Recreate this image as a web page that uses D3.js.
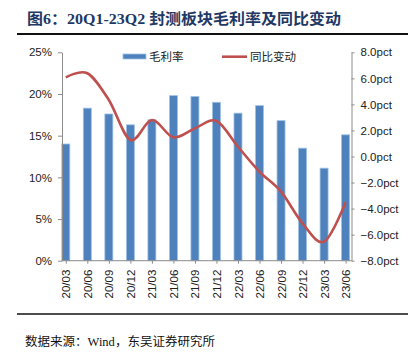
<!DOCTYPE html>
<html><head><meta charset="utf-8">
<script src="https://cdn.jsdelivr.net/npm/d3@7"></script>
<style>body{margin:0;background:#fff}svg{display:block}</style>
</head><body>
<script>
const categories = ["20/03","20/06","20/09","20/12","21/03","21/06","21/09","21/12","22/03","22/06","22/09","22/12","23/03","23/06"];
const grossMargin = [14.0,18.3,17.6,16.3,16.9,19.8,19.7,19.0,17.7,18.6,16.8,13.5,11.1,15.1];
const yoyChange = [6.08,6.39,4.34,1.27,2.80,1.47,2.16,2.73,0.75,-1.17,-2.70,-5.13,-6.54,-3.52];
const leftTicks = [0,5,10,15,20,25];
const rightTicks = [8,6,4,2,0,-2,-4,-6,-8];
const seriesNames = ["毛利率","同比变动"];
const titleText = "图6：20Q1-23Q2 封测板块毛利率及同比变动";
const sourceText = "数据来源：Wind，东吴证券研究所";

const W = 413, H = 354;
const svg = d3.select("body").append("svg").attr("width", W).attr("height", H);

const x0 = 62, x1 = 351.5, yTop = 52.3, yBot = 260.7;
const x = d3.scalePoint().domain(categories).range([65.8, 345.6]);
const yL = d3.scaleLinear().domain([0,25]).range([yBot, yTop]);
const yR = d3.scaleLinear().domain([-8,8]).range([yBot, yTop]);
const axisColor = "#8c8c8c";
const tickFont = "'Liberation Sans', Arial, sans-serif";

// Title
svg.append("text").attr("x", 27).attr("y", 24)
  .attr("font-family", "'Liberation Serif','Noto Sans CJK SC',serif")
  .attr("font-weight", "bold").attr("font-size", 15).attr("fill", "#1f3864")
  .attr("textLength", 314).attr("lengthAdjust", "spacingAndGlyphs")
  .text(titleText);
svg.append("line").attr("x1", 17).attr("x2", 408).attr("y1", 34).attr("y2", 34)
  .attr("stroke", "#111").attr("stroke-width", 2);

// Bars
const bw = 8;
svg.append("g").selectAll("rect").data(grossMargin).join("rect")
  .attr("x", (d,i) => x(categories[i]) - bw/2)
  .attr("y", d => yL(d))
  .attr("width", bw)
  .attr("height", d => yBot - yL(d))
  .attr("fill", "#4f81bd")
  .attr("stroke", "#9cc2e5").attr("stroke-width", 0.8);

// Left axis
const gL = svg.append("g").attr("transform", `translate(${x0},0)`)
  .call(d3.axisLeft(yL).tickValues(leftTicks).tickFormat(d => d + "%").tickSize(4).tickSizeOuter(0).tickPadding(6));
gL.select(".domain").attr("stroke", axisColor);
gL.selectAll(".tick line").attr("stroke", axisColor);
gL.selectAll("text").attr("font-family", tickFont).attr("font-size", 11.5).attr("fill", "#222");

// Right axis
const gR = svg.append("g").attr("transform", `translate(${x1},0)`)
  .call(d3.axisRight(yR).tickValues(rightTicks).tickFormat(d => d3.format(".1f")(d) + "pct").tickSize(3).tickSizeOuter(0).tickPadding(6));
gR.select(".domain").attr("stroke", axisColor);
gR.selectAll(".tick line").attr("stroke", axisColor);
gR.selectAll("text").attr("font-family", tickFont).attr("font-size", 11.5).attr("fill", "#222");

// Bottom axis
const gB = svg.append("g").attr("transform", `translate(0,${yBot})`)
  .call(d3.axisBottom(x).tickSize(3).tickSizeOuter(0).tickPadding(8));
gB.select(".domain").attr("d", `M${x0},0H${x1}`).attr("stroke", axisColor);
gB.selectAll(".tick line").attr("stroke", axisColor);
gB.selectAll("text").attr("font-family", tickFont).attr("font-size", 11.5).attr("fill", "#222")
  .attr("transform", "rotate(-90)").attr("text-anchor", "end")
  .attr("x", -9).attr("y", 0).attr("dy", "0.35em");

// Line
const line = d3.line().x((d,i) => x(categories[i])).y(d => yR(d)).curve(d3.curveCatmullRom.alpha(0));
svg.append("path").datum(yoyChange).attr("d", line)
  .attr("fill", "none").attr("stroke", "#c0504d").attr("stroke-width", 2.6);

// Legend
const lg = svg.append("g").attr("font-family", "'Noto Sans CJK SC',sans-serif").attr("font-size", 11.5).attr("fill", "#222");
lg.append("rect").attr("x", 123).attr("y", 54).attr("width", 23).attr("height", 5)
  .attr("fill", "#4f81bd").attr("stroke", "#9cc2e5").attr("stroke-width", 0.8);
lg.append("text").attr("x", 149).attr("y", 61).text(seriesNames[0]);
lg.append("line").attr("x1", 222).attr("x2", 247).attr("y1", 56.7).attr("y2", 56.7)
  .attr("stroke", "#c0504d").attr("stroke-width", 2.6);
lg.append("text").attr("x", 250).attr("y", 61).text(seriesNames[1]);

// Bottom rule and source
svg.append("line").attr("x1", 17).attr("x2", 408).attr("y1", 314).attr("y2", 314)
  .attr("stroke", "#111").attr("stroke-width", 1.5);
svg.append("text").attr("x", 25).attr("y", 346)
  .attr("font-family", "'Liberation Serif','Noto Sans CJK SC',serif").attr("font-size", 12).attr("fill", "#111")
  .attr("textLength", 190).attr("lengthAdjust", "spacingAndGlyphs")
  .text(sourceText);
</script>
</body></html>
